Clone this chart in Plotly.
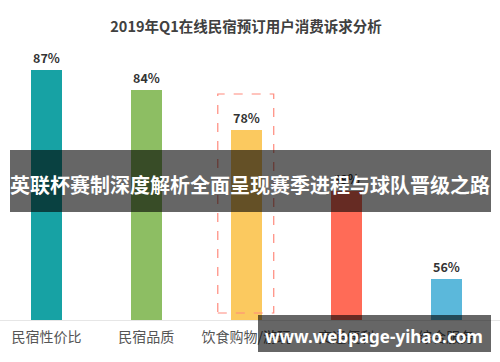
import plotly.graph_objects as go

categories = ["民宿性价比", "民宿品质", "饮食购物/游玩", "交通便利", "综合服务"]
values = [87, 84, 78, 69, 56]
colors = ["#17a2a4", "#8dbe63", "#fbc95f", "#ff6b57", "#5bb8db"]
title_text = "2019年Q1在线民宿预订用户消费诉求分析"
banner_text = "英联杯赛制深度解析全面呈现赛季进程与球队晋级之路"
watermark_text = "www.webpage-yihao.com"

CJK = "Noto Sans CJK SC"
x = list(range(len(categories)))

fig = go.Figure()
fig.add_trace(go.Bar(
    x=x, y=values, marker=dict(color=colors, line=dict(width=0)),
    width=0.31,
    text=[f"<b>{v}%</b>" for v in values], textposition="outside",
    textfont=dict(family=CJK, size=12.5, color="#333333"),
    cliponaxis=False, hoverinfo="skip",
))

# plot area: 0..320 px from top; paper y = (320 - py)/320
def py(p):
    return (320 - p) / 320

fig.update_layout(
    width=500, height=362,
    margin=dict(l=0, r=0, t=0, b=42),
    paper_bgcolor="white", plot_bgcolor="white",
    showlegend=False,
    title=dict(text=f"<b>{title_text}</b>", x=0.492, xanchor="center",
               y=1 - 27 / 362, yanchor="middle", yref="container",
               font=dict(family=CJK, size=14.5, color="#404040")),
    xaxis=dict(range=[-0.465, 4.54], tickvals=x, ticktext=categories,
               showgrid=False, zeroline=False, showline=True,
               linecolor="#e6e6e6", linewidth=1, ticks="",
               tickfont=dict(family=CJK, size=14, color="#555555"),
               ticklabelstandoff=4),
    yaxis=dict(range=[50, 50 + 320 / 6.77], visible=False, showgrid=False),
    bargap=0,
)

# dashed highlight box around third bar
fig.add_shape(type="rect", xref="x", yref="paper",
              x0=2 - 0.285, x1=2 + 0.275, y0=py(313), y1=py(94),
              line=dict(color="#ff8a7c", width=1.2, dash="dash"),
              fillcolor="rgba(0,0,0,0)", layer="above")

# overlay banner
fig.add_shape(type="rect", xref="paper", yref="paper",
              x0=10 / 500, x1=491 / 500, y0=py(212), y1=py(150),
              fillcolor="rgba(0,0,0,0.6)", line=dict(width=0), layer="above")
fig.add_annotation(xref="paper", yref="paper", x=250 / 500, y=py(184),
                   text=f"<b>{banner_text}</b>", showarrow=False,
                   font=dict(family=CJK, size=20, color="white"),
                   xanchor="center", yanchor="middle")

# watermark
fig.add_shape(type="rect", xref="paper", yref="paper",
              x0=258 / 500, x1=491 / 500, y0=py(352), y1=py(315),
              fillcolor="rgba(0,0,0,0.6)", line=dict(width=0), layer="above")
fig.add_annotation(xref="paper", yref="paper", x=374 / 500, y=py(336),
                   text=f"<b>{watermark_text}</b>", showarrow=False,
                   font=dict(family="Noto Sans", size=17, color="white"),
                   xanchor="center", yanchor="middle")

fig.write_html("out.html")
